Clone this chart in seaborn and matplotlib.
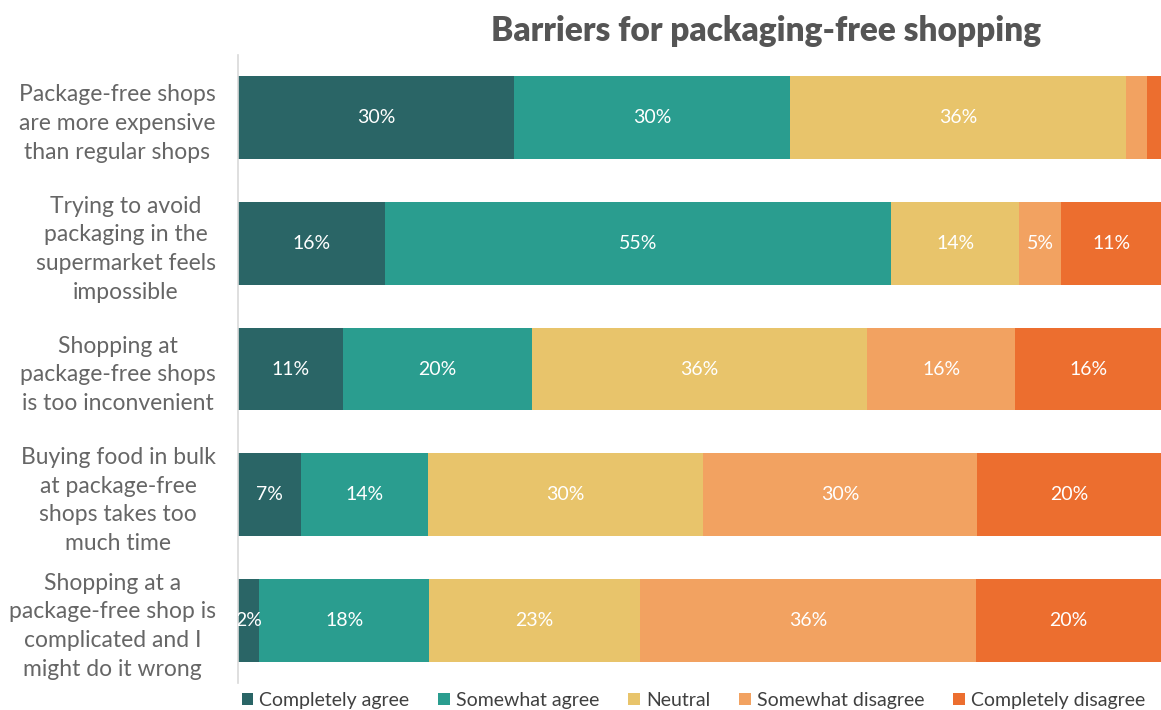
import matplotlib
matplotlib.use("Agg")
import matplotlib.pyplot as plt
from matplotlib.patches import Patch
import seaborn as sns
import pandas as pd
import numpy as np

# Survey data (share of respondents, %)
statements = [
    "Package-free shops\nare more expensive\nthan regular shops",
    "Trying to avoid\npackaging in the\nsupermarket feels\nimpossible",
    "Shopping at\npackage-free shops\nis too inconvenient",
    "Buying food in bulk\nat package-free\nshops takes too\nmuch time",
    "Shopping at a\npackage-free shop is\ncomplicated and I\nmight do it wrong",
]
responses = ["Completely agree", "Somewhat agree", "Neutral",
             "Somewhat disagree", "Completely disagree"]
completely_agree = [29.9, 15.9, 11.4, 6.8, 2.3]
somewhat_agree = [29.9, 54.9, 20.4, 13.8, 18.4]
neutral = [36.4, 13.8, 36.4, 29.8, 22.9]
somewhat_disagree = [2.3, 4.6, 16.0, 29.7, 36.4]
completely_disagree = [1.5, 10.8, 15.8, 19.9, 20.0]

colors = ["#2a6566", "#2a9d8f", "#e8c46b", "#f2a261", "#ec6e2f"]
hidden_labels = {(0, 3), (0, 4)}

series = [completely_agree, somewhat_agree, neutral,
          somewhat_disagree, completely_disagree]
df = pd.DataFrame(dict(zip(responses, series)), index=statements)
cum = df.cumsum(axis=1)

sns.set_theme(style="white")
plt.rcParams["font.family"] = ["Lato", "DejaVu Sans"]

fig = plt.figure(figsize=(11.61, 7.10), dpi=100)
ax = fig.add_axes([0.205, 0.038, 0.795, 0.8845])

# Overlapping cumulative bars produce the stacked look
for i in range(len(responses) - 1, -1, -1):
    d = pd.DataFrame({"statement": statements, "total": cum.iloc[:, i].values})
    sns.barplot(data=d, x="total", y="statement", color=colors[i],
                saturation=1, width=0.66, ax=ax, orient="h", linewidth=0,
                edgecolor="none")

for r in range(len(statements)):
    for c in range(len(responses)):
        if (r, c) in hidden_labels:
            continue
        v = df.iloc[r, c]
        x = cum.iloc[r, c] - v / 2
        ax.text(x, r, f"{v:.0f}%", ha="center", va="center", color="white",
                fontsize=14, fontweight="normal", clip_on=True)

ax.set_xlim(0, 100)
ax.set_ylim(4.5, -0.5)
ax.set_xlabel("")
ax.set_ylabel("")
ax.set_xticks([])
ax.tick_params(axis="y", length=0, pad=16)
for lbl in ax.get_yticklabels():
    lbl.set_multialignment("center")
    lbl.set_fontsize(16.5)
    lbl.set_fontweight("normal")
    lbl.set_color("#666666")
    lbl.set_linespacing(1.45)
    lbl.set_verticalalignment("center_baseline")

for s in ["top", "right", "bottom"]:
    ax.spines[s].set_visible(False)
ax.spines["left"].set_color("#d9d9d9")
ax.spines["left"].set_linewidth(1.2)

fig.text(0.66, 0.957, "Barriers for packaging-free shopping", ha="center",
         va="center", fontsize=24, fontweight="heavy", color="#555555")

handles = [Patch(facecolor=c, edgecolor="none") for c in colors]
fig.legend(handles, responses, loc="center left", bbox_to_anchor=(0.193, 0.014),
           ncol=5, frameon=False, fontsize=14, handlelength=0.6,
           handleheight=0.6, handletextpad=0.3, columnspacing=1.5,
           labelcolor="#404040")

fig.savefig("out.png", dpi=100)
